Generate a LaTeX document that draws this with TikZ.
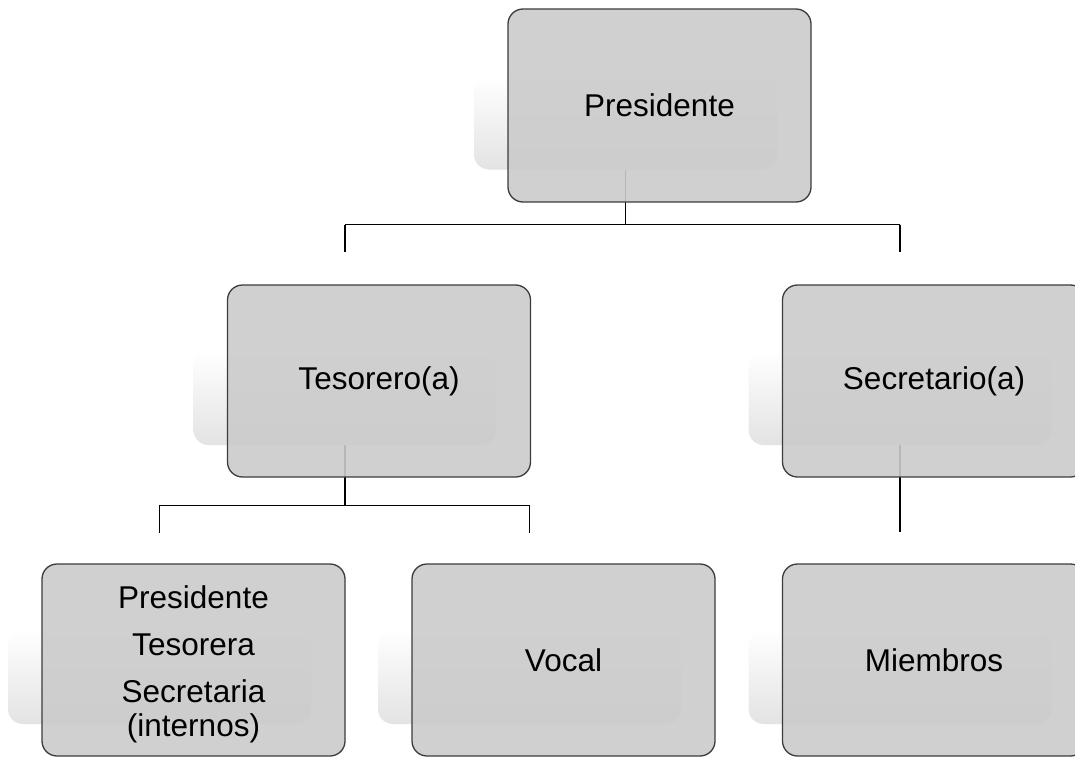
\documentclass[tikz,border=0pt]{standalone}
\usepackage{fontspec}
\setmainfont{Liberation Sans}
\usetikzlibrary{calc}

\pgfdeclarelayer{links}
\pgfdeclarelayer{labels}
\pgfsetlayers{links,main,labels}

\definecolor{boxfill}{HTML}{CBCBCB}
\definecolor{boxline}{HTML}{3C3C3C}
\definecolor{glowc}{HTML}{E3E3E3}

\tikzset{
  card/.style={draw=boxline, line width=1.3pt, fill=boxfill, fill opacity=0.9,
    rounded corners=15pt, minimum width=303pt, minimum height=192pt, inner sep=0pt},
  glow/.style={top color=white, bottom color=glowc, rounded corners=15pt,
    minimum width=303pt, minimum height=94pt, inner sep=0pt},
  caption/.style={font=\fontsize{31.5}{34}\selectfont, align=center, text=black},
  link/.style={line width=1.2pt, black},
}

\begin{document}
\begin{tikzpicture}[x=1pt, y=-1pt]
\useasboundingbox (0,0) rectangle (1075,757);

% soft backdrops, offset to the lower left of each box
\node[glow] (s1) at (625.5,122.5) {};
\node[glow] (s2) at (345,398) {};
\node[glow] (s3) at (900,398) {};
\node[glow] (s4) at (159.5,677) {};
\node[glow] (s5) at (529.5,677) {};
\node[glow] (s6) at (900,677) {};

% boxes
\node[card, minimum height=193pt] (b1) at (659.5,105.5) {};
\node[card] (b2) at (379,381) {};
\node[card] (b3) at (934,381) {};
\node[card] (b4) at (193.5,660) {};
\node[card] (b5) at (563.5,660) {};
\node[card] (b6) at (934,660) {};

% labels
\begin{pgfonlayer}{labels}
\node[caption] (t1) at (b1) {Presidente};
\node[caption] (t2) at (b2) {Tesorero(a)};
\node[caption] (t3) at (b3) {Secretario(a)};
\node[caption] (t4) at (193.5,664) {Presidente\\[13pt]Tesorera\\[13pt]Secretaria\\(internos)};
\node[caption] (t5) at (b5) {Vocal};
\node[caption] (t6) at (b6) {Miembros};
\end{pgfonlayer}

% connectors
\begin{pgfonlayer}{links}
\draw[link] (s1.south) -- ++(0,55) coordinate (j1);
\draw[link] (j1 -| s2) -- (j1 -| s3);
\draw[link] (j1 -| s2) -- ++(0,27) coordinate (e2);
\draw[link] (j1 -| s3) -- ++(0,27) coordinate (e3);

\draw[link] (s2.south) -- ++(0,60) coordinate (j2);
\draw[link] (j2 -| s4) -- (j2 -| s5);
\draw[link] (j2 -| s4) -- ++(0,28) coordinate (e4);
\draw[link] (j2 -| s5) -- ++(0,28) coordinate (e5);

\draw[link] (s3.south) -- ++(0,87) coordinate (e6);
\end{pgfonlayer}
\end{tikzpicture}
\end{document}
